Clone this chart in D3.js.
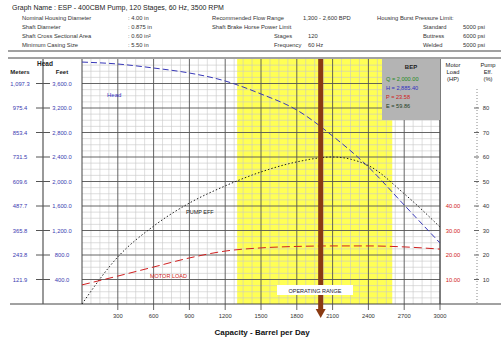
<!DOCTYPE html>
<html>
<head>
<style>
body { margin: 0; background: #fff; }
svg text { font-family: "Liberation Sans", Arial, sans-serif; }
</style>
</head>
<body>
<script src="https://cdn.jsdelivr.net/npm/d3@7"></script>
<script>
// capacity points (BPD) and the three curves
var flow = [0, 300, 600, 900, 1200, 1500, 1800, 2100, 2400, 2700, 3000];
var headFt = [3950, 3918, 3853, 3771, 3641, 3429, 3167, 2743, 2237, 1616, 996];
var effPct = [0, 19.2, 31.8, 41.2, 48.2, 53.9, 58.0, 60.0, 56.5, 45.0, 31.4];
var loadHp = [7.8, 11.4, 15.1, 18.8, 21.6, 22.9, 23.5, 23.7, 23.7, 23.3, 22.4];

var xTicks = [300, 600, 900, 1200, 1500, 1800, 2100, 2400, 2700, 3000];
var ftTicks = [400, 800, 1200, 1600, 2000, 2400, 2800, 3200, 3600];
var hpTicks = [10, 20, 30, 40];
var effTicks = [10, 20, 30, 40, 50, 60, 70, 80];

var flowRange = [1300, 2600];
var opFlow = 2000;

var legendRows = [
  {t: "Q = 2,000.00", c: "#1f8a1f"},
  {t: "H = 2,885.40", c: "#3030c0"},
  {t: "P = 23.58", c: "#d02020"},
  {t: "E = 59.86", c: "#1d3d1d"}
];

var headerRows = [
  ["Nominal Housing Diameter", ": 4.00 in", "Recommended Flow Range", "1,300 - 2,600 BPD", "Housing Burst Pressure Limit:", ""],
  ["Shaft Diameter", ": 0.875 in", "Shaft Brake Horse Power Limit", "", "Standard", "5000 psi"],
  ["Shaft Cross Sectional Area", ": 0.60 in\u00b2", "Stages", "120", "Buttress", "6000 psi"],
  ["Minimum Casing Size", ": 5.50 in", "Frequency", "60 Hz", "Welded", "5000 psi"]
];

var W = 501, H = 343;
var svg = d3.select("body").append("svg").attr("width", W).attr("height", H);

// plot box
var pL = 82, pR = 440, pT = 59, pB = 304;
var x = d3.scaleLinear().domain([0, 3000]).range([pL, pR]);
var yFt = d3.scaleLinear().domain([0, 4000]).range([pB, pT]);
var yPct = d3.scaleLinear().domain([0, 100]).range([pB, pT]);

// header
svg.append("text").attr("x", 12).attr("y", 10).attr("font-size", 7).attr("fill", "#222")
  .text("Graph Name :   ESP - 400CBM Pump, 120 Stages, 60 Hz, 3500 RPM");
var hcols = [22, 128, 212, 308, 377, 463];
headerRows.forEach(function(r, i) {
  r.forEach(function(s, j) {
    var cx = hcols[j];
    if (i > 1 && j == 2) cx = 274;
    if (i == 0 && j == 3) cx = 303;
    if (i > 0 && j == 4) cx = 423;
    if (s) svg.append("text").attr("x", cx).attr("y", 20 + i * 9).attr("font-size", 5.8).attr("fill", "#333").text(s);
  });
});
svg.append("line").attr("x1", 8).attr("x2", W).attr("y1", 51).attr("y2", 51).attr("stroke", "#444").attr("stroke-width", 1.2);

// yellow recommended range
svg.append("rect").attr("x", x(flowRange[0])).attr("y", pT)
  .attr("width", x(flowRange[1]) - x(flowRange[0])).attr("height", pB - pT)
  .attr("fill", "#ffff55");

// grid
var g = svg.append("g");
d3.range(75, 3000, 75).forEach(function(v) {
  if (v % 300 != 0) g.append("line").attr("x1", x(v)).attr("x2", x(v)).attr("y1", pT).attr("y2", pB).attr("stroke", "#c8c8c8").attr("stroke-width", 0.6);
});
d3.range(100, 4000, 100).forEach(function(v) {
  if (v % 400 != 0) g.append("line").attr("x1", pL).attr("x2", pR).attr("y1", yFt(v)).attr("y2", yFt(v)).attr("stroke", "#c8c8c8").attr("stroke-width", 0.6);
});
xTicks.forEach(function(v) {
  g.append("line").attr("x1", x(v)).attr("x2", x(v)).attr("y1", pT).attr("y2", pB + 6).attr("stroke", "#555").attr("stroke-width", 0.9);
});
ftTicks.forEach(function(v) {
  g.append("line").attr("x1", pL).attr("x2", pR).attr("y1", yFt(v)).attr("y2", yFt(v)).attr("stroke", "#555").attr("stroke-width", 0.9);
});

// frame
svg.append("line").attr("x1", 10).attr("x2", W).attr("y1", pB).attr("y2", pB).attr("stroke", "#444");
svg.append("line").attr("x1", 8).attr("x2", W).attr("y1", pT - 1).attr("y2", pT - 1).attr("stroke", "#444");
svg.append("line").attr("x1", pL).attr("x2", pL).attr("y1", pT).attr("y2", pB).attr("stroke", "#444");
svg.append("line").attr("x1", pR).attr("x2", pR).attr("y1", pT).attr("y2", pB).attr("stroke", "#444");
svg.append("line").attr("x1", 43).attr("x2", 43).attr("y1", pT).attr("y2", pB).attr("stroke", "#555").attr("stroke-width", 1.2);
svg.append("line").attr("x1", 477).attr("x2", 477).attr("y1", pT + 30).attr("y2", pB).attr("stroke", "#888").attr("stroke-dasharray", "1,2");

// curves
var line = function(ys, scale) {
  return d3.line().x(function(d, i) { return x(flow[i]); }).y(function(d) { return scale(d); }).curve(d3.curveMonotoneX)(ys);
};
svg.append("path").attr("d", line(headFt, yFt)).attr("fill", "none").attr("stroke", "#3838b8").attr("stroke-width", 1).attr("stroke-dasharray", "6,3");
svg.append("path").attr("d", line(effPct, yPct)).attr("fill", "none").attr("stroke", "#222").attr("stroke-width", 1).attr("stroke-dasharray", "1.5,2");
svg.append("path").attr("d", line(loadHp, yPct)).attr("fill", "none").attr("stroke", "#d02020").attr("stroke-width", 1).attr("stroke-dasharray", "8,4");

svg.append("text").attr("x", 107).attr("y", 97).attr("font-size", 6).attr("fill", "#3030c0").text("Head");
svg.append("text").attr("x", 186).attr("y", 214).attr("font-size", 5.5).attr("fill", "#222").text("PUMP EFF");
svg.append("text").attr("x", 150).attr("y", 278).attr("font-size", 5.5).attr("fill", "#d02020").text("MOTOR LOAD");

// operating point marker
svg.append("line").attr("x1", x(opFlow)).attr("x2", x(opFlow)).attr("y1", pT).attr("y2", pB + 6)
  .attr("stroke", "#8a3a12").attr("stroke-width", 5);
svg.append("path").attr("d", d3.line()([[x(opFlow) - 5, pB + 5], [x(opFlow) + 5, pB + 5], [x(opFlow), pB + 14]])).attr("fill", "#8a3a12");

// range box
svg.append("rect").attr("x", 277).attr("y", 285).attr("width", 76).attr("height", 10).attr("fill", "#fff");
svg.append("text").attr("x", 315).attr("y", 292.5).attr("text-anchor", "middle").attr("font-size", 5.5).attr("fill", "#223").text("OPERATING RANGE");

// legend
svg.append("rect").attr("x", 382).attr("y", pT).attr("width", 58).attr("height", 61).attr("fill", "#b4b4b4");
svg.append("text").attr("x", 411).attr("y", 69).attr("text-anchor", "middle").attr("font-size", 6).attr("font-weight", "bold").attr("fill", "#222").text("BEP");
legendRows.forEach(function(r, i) {
  svg.append("text").attr("x", 386).attr("y", 81 + i * 9).attr("font-size", 5.6).attr("fill", r.c).text(r.t);
});

// left axis labels
svg.append("text").attr("x", 45).attr("y", 66).attr("text-anchor", "middle").attr("font-size", 6.5).attr("font-weight", "bold").attr("fill", "#222").text("Head");
svg.append("text").attr("x", 20).attr("y", 74).attr("text-anchor", "middle").attr("font-size", 6).attr("font-weight", "bold").attr("fill", "#222").text("Meters");
svg.append("text").attr("x", 62).attr("y", 74).attr("text-anchor", "middle").attr("font-size", 6).attr("font-weight", "bold").attr("fill", "#222").text("Feet");
ftTicks.forEach(function(v) {
  svg.append("line").attr("x1", 36).attr("x2", 50).attr("y1", yFt(v)).attr("y2", yFt(v)).attr("stroke", "#555");
  svg.append("text").attr("x", 20).attr("y", yFt(v) + 2).attr("text-anchor", "middle").attr("font-size", 5.8).attr("fill", "#3a3ab0").text(d3.format(",.1f")(v * 0.3048));
  svg.append("text").attr("x", 62).attr("y", yFt(v) + 2).attr("text-anchor", "middle").attr("font-size", 5.8).attr("fill", "#3a3ab0").text(d3.format(",.1f")(v));
});

// right axis labels
["Motor", "Load", "(HP)"].forEach(function(s, i) {
  svg.append("text").attr("x", 453).attr("y", 67 + i * 7).attr("text-anchor", "middle").attr("font-size", 5.8).attr("fill", "#222").text(s);
});
["Pump", "Eff.", "(%)"].forEach(function(s, i) {
  svg.append("text").attr("x", 488).attr("y", 67 + i * 7).attr("text-anchor", "middle").attr("font-size", 5.8).attr("fill", "#222").text(s);
});
hpTicks.forEach(function(v) {
  svg.append("text").attr("x", 453).attr("y", yPct(v) + 2).attr("text-anchor", "middle").attr("font-size", 5.8).attr("fill", "#d02020").text(d3.format(".2f")(v));
});
effTicks.forEach(function(v) {
  svg.append("line").attr("x1", 474).attr("x2", 479).attr("y1", yPct(v)).attr("y2", yPct(v)).attr("stroke", "#666");
  svg.append("text").attr("x", 486).attr("y", yPct(v) + 2).attr("text-anchor", "middle").attr("font-size", 5.8).attr("fill", "#333").text(v);
});

// x axis labels
xTicks.forEach(function(v) {
  svg.append("text").attr("x", x(v)).attr("y", 318).attr("text-anchor", "middle").attr("font-size", 5.8).attr("fill", "#333").text(v);
});
svg.append("text").attr("x", 262).attr("y", 335).attr("text-anchor", "middle").attr("font-size", 8).attr("font-weight", "bold").attr("fill", "#111").text("Capacity - Barrel per Day");
</script>
</body>
</html>
